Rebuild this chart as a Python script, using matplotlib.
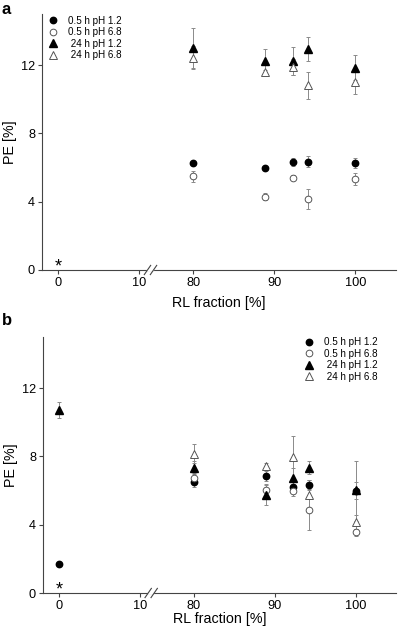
import numpy as np
import matplotlib
matplotlib.use("Agg")
import matplotlib.pyplot as plt

plt.rcParams['font.family'] = ['Liberation Sans', 'DejaVu Sans']

# ---------------- data ----------------
x_ticks = [0, 10, 80, 90, 100]
y_ticks = [0, 4, 8, 12]
labels = ["0.5 h pH 1.2", "0.5 h pH 6.8", " 24 h pH 1.2", " 24 h pH 6.8"]

# Panel a
a_x = [80, 88.9, 92.3, 94.2, 100]
a_05_12 = [6.25, 5.99, 6.34, 6.34, 6.28]
a_05_12_err = [0.08, 0.06, 0.25, 0.33, 0.3]
a_05_68 = [5.5, 4.29, 5.41, 4.16, 5.35]
a_05_68_err = [0.32, 0.2, 0.15, 0.61, 0.36]
a_24_12 = [13.02, 12.24, 12.24, 12.94, 11.85]
a_24_12_err = [1.17, 0.7, 0.8, 0.72, 0.74]
a_24_68 = [12.45, 11.61, 11.9, 10.83, 11.03]
a_24_68_err = [0.65, 0.1, 0.45, 0.8, 0.7]

# Panel b
b_x_all = [0, 80, 88.9, 92.3, 94.2, 100]
b_x = [80, 88.9, 92.3, 94.2, 100]
b_05_12 = [1.67, 6.5, 6.85, 6.19, 6.34, 5.97]
b_05_12_err = [0.05, 0.3, 0.3, 0.3, 0.3, 1.75]
b_05_68 = [6.73, 6.05, 5.99, 4.88, 3.56]
b_05_68_err = [0.3, 0.3, 0.3, 1.2, 0.2]
b_24_12 = [10.72, 7.35, 5.76, 6.73, 7.35, 6.03]
b_24_12_err = [0.45, 0.4, 0.6, 0.6, 0.4, 0.5]
b_24_68 = [8.17, 7.43, 7.98, 5.74, 4.16]
b_24_68_err = [0.55, 0.2, 1.22, 0.9, 0.4]

# ---------------- broken-axis scale ----------------
GAP = 6.67


def fwd(x):
    x = np.asarray(x, dtype=float)
    return np.where(x <= 10, x,
                    np.where(x >= 80, 10 + GAP + (x - 80),
                             10 + (x - 10) * GAP / 70.0))


def inv(t):
    t = np.asarray(t, dtype=float)
    return np.where(t <= 10, t,
                    np.where(t >= 10 + GAP, t - 10 - GAP + 80,
                             10 + (t - 10) * 70.0 / GAP))


fig = plt.figure(figsize=(3.99, 6.29), dpi=100)
W, H = 399, 629


def make_ax(left, right, top, bottom):
    return fig.add_axes([left / W, 1 - bottom / H, (right - left) / W, (bottom - top) / H])


ax_a = make_ax(42, 396, 14, 270)
ax_b = make_ax(43, 396, 337, 593)

ERRC = '#8a8a8a'
OPEN_EC = '#555555'
AXC = '#444444'

styles = [
    dict(marker='o', ms=4.6, mfc='black', mec='black'),
    dict(marker='o', ms=4.8, mfc='white', mec=OPEN_EC, mew=0.7),
    dict(marker='^', ms=5.2, mfc='black', mec='black'),
    dict(marker='^', ms=5.6, mfc='white', mec=OPEN_EC, mew=0.7),
]


def draw(ax, series, xlabelpad):
    for (xs, ys, es), st, lab in zip(series, styles, labels):
        ax.errorbar(xs, ys, yerr=es, fmt='none', ecolor=ERRC, elinewidth=0.7,
                    capsize=1.6, capthick=0.7, zorder=2)
    for (xs, ys, es), st, lab in zip(series, styles, labels):
        ax.plot(xs, ys, ls='none', label=lab, zorder=3, **st)

    ax.set_xscale('function', functions=(fwd, inv))
    ax.set_xlim(-2, 105)
    ax.set_ylim(0, 15)
    ax.set_xticks(x_ticks)
    ax.set_xticklabels([str(v) for v in x_ticks])
    ax.set_yticks(y_ticks)
    ax.minorticks_off()
    ax.tick_params(axis='both', direction='out', length=3, width=0.8,
                   labelsize=9.2, color=AXC, pad=2)
    for s in ['top', 'right']:
        ax.spines[s].set_visible(False)
    for s in ['left', 'bottom']:
        ax.spines[s].set_color(AXC)
        ax.spines[s].set_linewidth(0.8)
    ax.set_xlabel('RL fraction [%]', fontsize=10.3, labelpad=xlabelpad)
    ax.set_ylabel('PE [%]', fontsize=10.3, labelpad=3)
    # break marks
    for xc in (0.298, 0.315):
        ax.plot([xc - 0.009, xc + 0.009], [-0.018, 0.018], transform=ax.transAxes,
                color=AXC, lw=0.8, clip_on=False, zorder=5)
    ax.plot([0.300, 0.313], [0, 0], transform=ax.transAxes, color='white',
            lw=1.6, clip_on=False, zorder=4)


draw(ax_a, [(a_x, a_05_12, a_05_12_err), (a_x, a_05_68, a_05_68_err),
            (a_x, a_24_12, a_24_12_err), (a_x, a_24_68, a_24_68_err)], 5)
draw(ax_b, [(b_x_all, b_05_12, b_05_12_err), (b_x, b_05_68, b_05_68_err),
            (b_x_all, b_24_12, b_24_12_err), (b_x, b_24_68, b_24_68_err)], 0)

ax_a.text(0, 0.15, '*', ha='center', va='center', fontsize=13)
ax_b.text(0, 0.15, '*', ha='center', va='center', fontsize=13)

leg_kw = dict(frameon=False, fontsize=7.1, handlelength=1.0, handletextpad=1.05,
              labelspacing=0.16, borderaxespad=0.0, borderpad=0.0, loc='upper left')
ax_a.legend(bbox_to_anchor=(0.0164, 0.994), **leg_kw)
ax_b.legend(bbox_to_anchor=(0.7397, 1.0), **leg_kw)

fig.text(2 / W, 1 - 2 / H, 'a', fontsize=12, fontweight='bold', va='top', ha='left')
fig.text(2 / W, 1 - 313 / H, 'b', fontsize=12, fontweight='bold', va='top', ha='left')

fig.savefig('out.png', dpi=100)
